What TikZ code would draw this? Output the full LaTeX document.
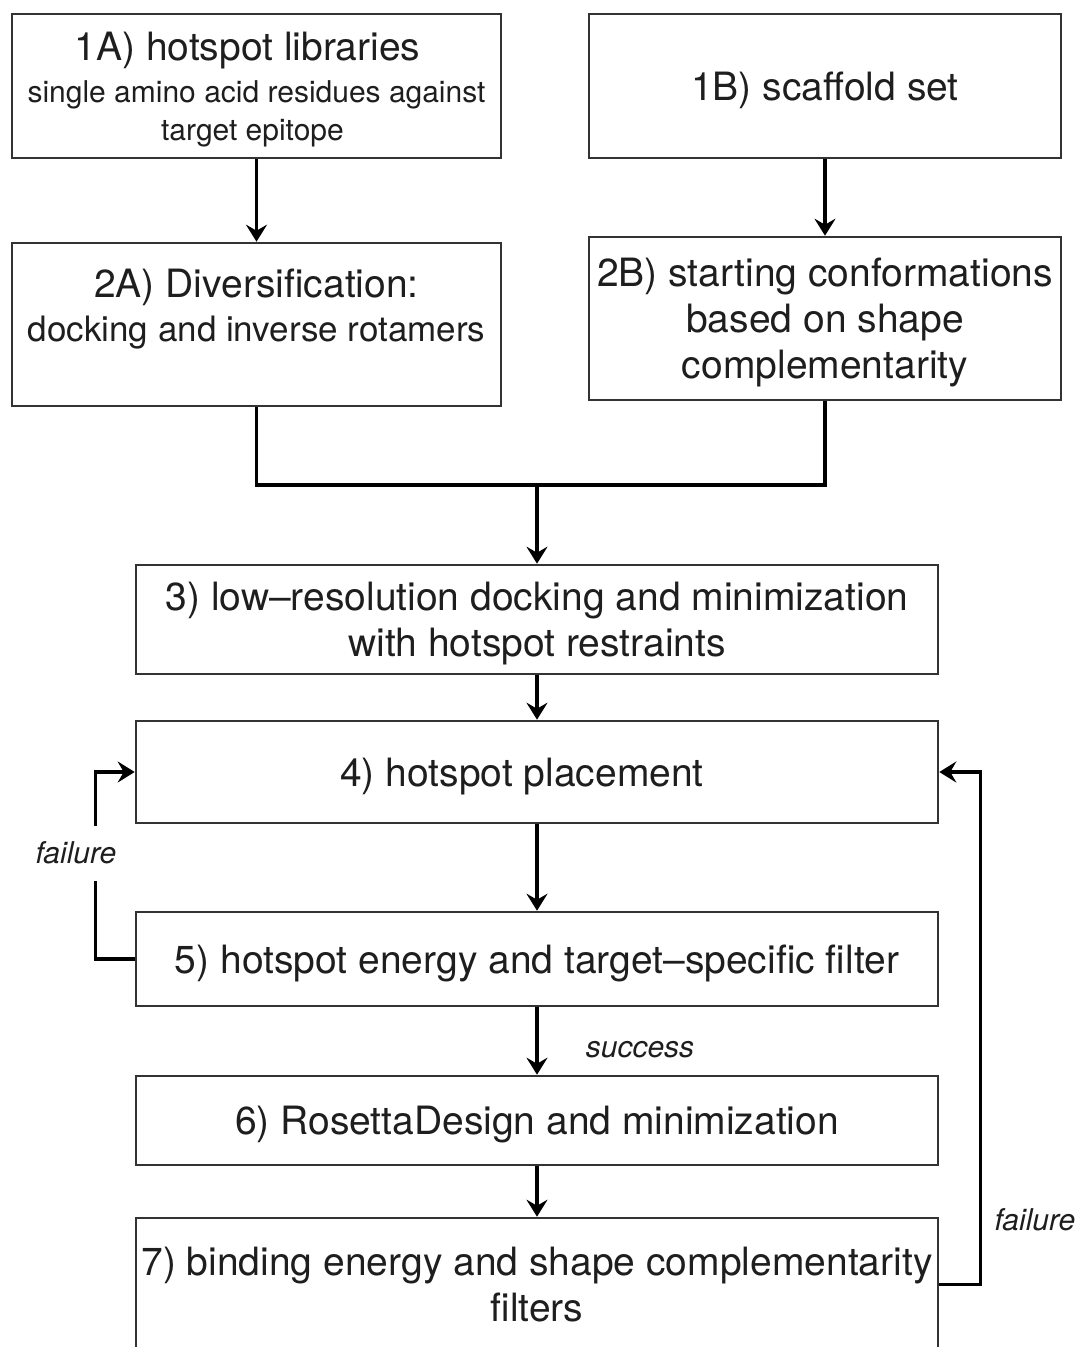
\documentclass[tikz,border=0pt]{standalone}
\usepackage{fontspec}
\setmainfont{TeX Gyre Heros}
\usetikzlibrary{arrows.meta}
\definecolor{boxcol}{HTML}{333333}
\definecolor{txtcol}{HTML}{1E1E1E}
\newcommand\tstrut{\rule{0pt}{36.5pt}}
\tikzset{
  stepbox/.style={draw=boxcol, line width=2.6pt, rectangle, inner sep=0pt,
    align=center, text=txtcol, font=\fontsize{39}{46}\selectfont},
  arr/.style={line width=3.2pt, draw=black, -{Stealth[length=17pt,width=21pt,inset=6pt]}},
  conn/.style={line width=3.2pt, draw=black},
  lbl/.style={font=\itshape\fontsize{30}{36}\selectfont, text=txtcol, inner sep=0pt}
}
\begin{document}
\begin{tikzpicture}[x=1pt, y=-1pt]
\useasboundingbox (0,0) rectangle (1081,1347);
\fill[white] (0,0) rectangle (1081,1347);

\node[stepbox, minimum width=489pt, minimum height=144pt] (b1a) at (256.5,86)
  {\tstrut 1A) hotspot libraries\hspace*{18pt}\\[-4pt]
   {\fontsize{30}{37}\selectfont single amino acid residues against}\hspace*{8pt}\\[-8pt]
   {\fontsize{30}{37}\selectfont target epitope}\hspace*{8pt}};
\node[stepbox, minimum width=472pt, minimum height=144pt] (b1b) at (825,86)
  {\tstrut 1B) scaffold set};
\node[stepbox, minimum width=489pt, minimum height=163pt] (b2a) at (256.5,324.5)
  {\tstrut 2A) Diversification:\\[-2pt]
   {\fontsize{35}{44}\selectfont docking and inverse rotamers}\\ \mbox{}};
\node[stepbox, minimum width=472pt, minimum height=163pt] (b2b) at (825,318.5)
  {\tstrut 2B) starting conformations\\based on shape\\complementarity};
\node[stepbox, minimum width=802pt, minimum height=109pt] (b3) at (537,619.5)
  {\tstrut 3) low–resolution docking and minimization\\with hotspot restraints};
\node[stepbox, minimum width=802pt, minimum height=102pt] (b4) at (537,772)
  {\tstrut 4) hotspot placement\hspace*{30pt}};
\node[stepbox, minimum width=802pt, minimum height=94pt] (b5) at (537,959)
  {\tstrut 5) hotspot energy and target–specific filter};
\node[stepbox, minimum width=802pt, minimum height=89pt] (b6) at (537,1120.5)
  {\tstrut 6) RosettaDesign and minimization};
\node[stepbox, minimum width=802pt, minimum height=133pt] (b7) at (537,1284.5)
  {7) binding energy and shape complementarity\\filters};

\coordinate (m) at (537,485);
\draw[arr] (b1a) -- (b2a);
\draw[arr] (b1b) -- (b2b);
\draw[conn] (b2a.south) |- (m) -| (b2b.south);
\draw[arr] (m) -- (b3.north);
\draw[arr] (b3) -- (b4);
\draw[arr] (b4) -- (b5);
\draw[arr] (b5) -- (b6);
\draw[arr] (b6) -- (b7);

\draw[arr] (b5.west) -- ++(-39,0) |- (b4.west);
\draw[arr] (b7.east) -- ++(41,0) |- (b4.east);

\node[lbl, fill=white, minimum height=55pt, minimum width=82pt] (f1) at (76,853) {failure};
\node[lbl] (f2) at (1035,1220) {failure};
\node[lbl] (s1) at (640,1050) {success};
\end{tikzpicture}
\end{document}
